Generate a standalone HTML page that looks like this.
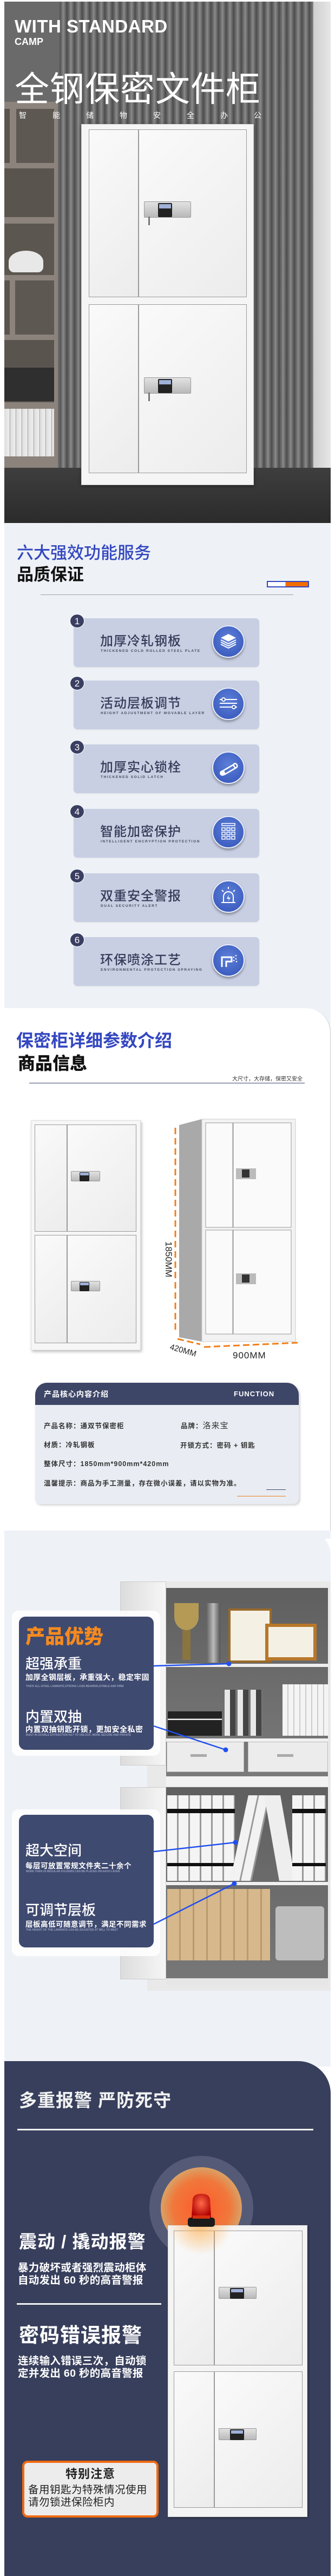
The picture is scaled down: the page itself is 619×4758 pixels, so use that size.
<!DOCTYPE html>
<html><head><meta charset="utf-8">
<style>
*{margin:0;padding:0;box-sizing:border-box}
body{width:619px;height:4758px;background:#fff;position:relative;overflow:hidden;font-family:"Liberation Sans","Noto Sans CJK SC",sans-serif}
.a{position:absolute}
.cj{font-family:"Liberation Sans","Noto Sans CJK SC",sans-serif}
.door{position:absolute;background:linear-gradient(135deg,#fafafa,#ececec);border:1px solid #9a9a9a}
.lock{position:absolute;background:linear-gradient(#e2e2e2,#b9b9b9);border:1px solid #999;border-radius:2px}
.lock .scr{position:absolute;background:#222;border-radius:2px}
.lock .scr i{position:absolute;background:#9fb0d8}
.card{position:absolute;left:136px;width:343px;height:90px;background:#c8cfe3;border-radius:7px;box-shadow:0 1px 2px rgba(0,0,0,.08)}
.card .t{position:absolute;left:49px;top:22px;font-size:24px;color:#363b58;font-weight:500;letter-spacing:1px}
.card .e{position:absolute;left:50px;top:57px;font-size:6.5px;font-weight:bold;color:#444a60;letter-spacing:1.6px;white-space:nowrap}
.card .ic{position:absolute;left:256px;top:13px;width:60px;height:60px;border-radius:50%;background:radial-gradient(circle at 50% 40%,#5d7fd8,#3253b8);border:2px solid #e8ecf8;box-shadow:0 3px 5px rgba(0,0,0,.35)}
.badge{position:absolute;left:-7px;top:-8px;width:27px;height:26px;border-radius:50%;background:#3a3f62;color:#fff;font-size:17px;text-align:center;line-height:26px;border:1px solid #fff}
.row{position:absolute;font-size:12.5px;color:#333;font-weight:bold;letter-spacing:1px;white-space:nowrap}
.pw{position:absolute;color:#fff;white-space:nowrap}
</style></head><body>

<!-- HERO -->
<div class="a" style="left:8px;top:3px;width:603px;height:963px;background:#6a6a6a;overflow:hidden">
  <div class="a" style="left:102px;top:0;width:471px;height:870px;background:repeating-linear-gradient(90deg,#4f4f4f 0px,#6e6e6e 4px,#8a8a8a 7px,#666 11px,#4a4a4a 14px)"></div>
  <div class="a" style="left:571px;top:0;width:32px;height:870px;background:linear-gradient(90deg,#cfcfcf,#e6e6e6)"></div>
  <!-- shelf -->
  <div class="a" style="left:0;top:185px;width:99px;height:678px;background:#8b837c"></div>
  <div class="a" style="left:0;top:198px;width:10px;height:100px;background:#5a544f"></div>
  <div class="a" style="left:22px;top:198px;width:70px;height:100px;background:#5e5852"></div>
  <div class="a" style="left:0;top:308px;width:92px;height:90px;background:#5a544f"></div>
  <div class="a" style="left:0;top:410px;width:92px;height:95px;background:#5c5650"></div>
  <div class="a" style="left:0;top:515px;width:10px;height:100px;background:#5a544f"></div>
  <div class="a" style="left:20px;top:515px;width:72px;height:100px;background:#5e5852"></div>
  <div class="a" style="left:0;top:625px;width:92px;height:115px;background:#5a544f"></div>
  <div class="a" style="left:0;top:676px;width:92px;height:62px;background:#2f2f2f"></div>
  <div class="a" style="left:0;top:752px;width:92px;height:88px;background:repeating-linear-gradient(90deg,#ddd 0,#eee 9px,#999 11px)"></div>
  <div class="a" style="left:8px;top:460px;width:64px;height:40px;border-radius:50% 50% 10px 10px;background:#e8e8e8"></div>
  <!-- floor -->
  <div class="a" style="left:0;top:861px;width:603px;height:102px;background:linear-gradient(#3e3e3e,#2b2b2b)"></div>
  <div class="a" style="left:0;top:61px;width:0;height:0"></div>
  <div class="a" style="left:19px;top:27px;color:#fff;font-size:33px;font-weight:bold;letter-spacing:0.5px">WITH STANDARD</div>
  <div class="a" style="left:19px;top:64px;color:#fff;font-size:18px;font-weight:bold">CAMP</div>
  <div class="a cj" style="left:19px;top:122px;color:#fff;font-size:64px;letter-spacing:1px;white-space:nowrap;line-height:80px">全钢保密文件柜</div>
  <div class="a cj" style="left:27px;top:200px;color:#fff;font-size:14px;white-space:nowrap;word-spacing:0">
   <span style="display:inline-block;width:62px">智</span><span style="display:inline-block;width:62px">能</span><span style="display:inline-block;width:62px">储</span><span style="display:inline-block;width:62px">物</span><span style="display:inline-block;width:62px">安</span><span style="display:inline-block;width:62px">全</span><span style="display:inline-block;width:62px">办</span><span>公</span></div>
  <!-- cabinet -->
  <div class="a" style="left:142px;top:226px;width:319px;height:667px;background:#f5f5f5;border:1px solid #ccc;box-shadow:0 2px 6px rgba(0,0,0,.4)">
    <div class="door" style="left:13px;top:9px;width:92px;height:310px"></div>
    <div class="door" style="left:105px;top:9px;width:200px;height:310px"></div>
    <div class="door" style="left:13px;top:332px;width:92px;height:312px"></div>
    <div class="door" style="left:105px;top:332px;width:200px;height:312px"></div>
    <div class="lock" style="left:115px;top:142px;width:87px;height:30px"><div class="scr" style="left:25px;top:2px;width:26px;height:26px"><i style="left:2px;top:2px;width:22px;height:8px"></i></div></div>
    <div class="a" style="left:123px;top:170px;width:3px;height:16px;background:#777"></div>
    <div class="lock" style="left:115px;top:467px;width:87px;height:30px"><div class="scr" style="left:25px;top:2px;width:26px;height:26px"><i style="left:2px;top:2px;width:22px;height:8px"></i></div></div>
    <div class="a" style="left:123px;top:495px;width:3px;height:16px;background:#777"></div>
  </div>
</div>

<!-- SECTION 2 -->
<div class="a" style="left:8px;top:966px;width:603px;height:896px;background:#eef2f7"></div>
<div class="a cj" style="left:31px;top:996px;font-size:31px;color:#3447c0;font-weight:500;white-space:nowrap">六大强效功能服务</div>
<div class="a cj" style="left:31px;top:1036px;font-size:31px;color:#111;font-weight:bold;white-space:nowrap">品质保证</div>
<div class="a" style="left:493px;top:1073px;width:78px;height:12px;border:2px solid #3447c0;background:linear-gradient(90deg,#fff 44%,#f26d00 44%)"></div>
<div class="a" style="left:75px;top:1098px;width:467px;height:1px;background:#9aa0aa"></div>

<div class="card" style="top:1142px"><div class="badge">1</div><div class="t">加厚冷轧钢板</div><div class="e">THICKENED COLD ROLLED STEEL PLATE</div>
 <div class="ic"><svg width="56" height="56" viewBox="0 0 56 56"><g fill="none" stroke="#fff" stroke-width="2"><path d="M14 33 L28 40 L42 33"/><path d="M14 29 L28 36 L42 29"/><path d="M14 25 L28 32 L42 25"/></g><path d="M14 21 L28 14 L42 21 L28 28Z" fill="#fff"/></svg></div></div>
<div class="card" style="top:1257px"><div class="badge">2</div><div class="t">活动层板调节</div><div class="e">HEIGHT ADJUSTMENT OF MOVABLE LAYER</div>
 <div class="ic"><svg width="56" height="56"><g stroke="#fff" stroke-width="2" fill="#3a5cc0"><line x1="12" y1="20" x2="44" y2="20"/><line x1="12" y1="27" x2="44" y2="27"/><line x1="12" y1="34" x2="44" y2="34"/><circle cx="19" cy="20" r="3"/><circle cx="38" cy="34" r="3"/></g></svg></div></div>
<div class="card" style="top:1375px"><div class="badge">3</div><div class="t">加厚实心锁栓</div><div class="e">THICKENED SOLID LATCH</div>
 <div class="ic"><svg width="56" height="56"><g stroke="#fff" stroke-width="2.5" fill="none"><path d="M14 36 L38 22 M20 41 L44 27"/><ellipse cx="41" cy="24" rx="3" ry="4" transform="rotate(-30 41 24)"/></g><circle cx="17" cy="38" r="5" fill="#fff"/></svg></div></div>
<div class="card" style="top:1494px"><div class="badge">4</div><div class="t">智能加密保护</div><div class="e">INTELLIGENT ENCRYPTION PROTECTION</div>
 <div class="ic"><svg width="56" height="56"><g stroke="#fff" stroke-width="1.5" fill="none"><rect x="16" y="12" width="24" height="4"/><rect x="16" y="20" width="6" height="5"/><rect x="25" y="20" width="6" height="5"/><rect x="34" y="20" width="6" height="5"/><rect x="16" y="28" width="6" height="5"/><rect x="25" y="28" width="6" height="5"/><rect x="34" y="28" width="6" height="5"/><rect x="16" y="36" width="6" height="5"/><rect x="25" y="36" width="6" height="5"/><rect x="34" y="36" width="6" height="5"/></g></svg></div></div>
<div class="card" style="top:1613px"><div class="badge">5</div><div class="t">双重安全警报</div><div class="e">DUAL SECURITY ALERT</div>
 <div class="ic"><svg width="56" height="56"><g stroke="#fff" stroke-width="2" fill="none"><path d="M19 38 V28 a9 9 0 0 1 18 0 V38"/><line x1="15" y1="39" x2="41" y2="39"/><line x1="28" y1="10" x2="28" y2="14"/><line x1="16" y1="16" x2="19" y2="19"/><line x1="40" y1="16" x2="37" y2="19"/></g><path d="M29 25 L25 32 H29 L27 37 L32 30 H28Z" fill="#fff"/></svg></div></div>
<div class="card" style="top:1731px"><div class="badge">6</div><div class="t">环保喷涂工艺</div><div class="e">ENVIRONMENTAL PROTECTION SPRAYING</div>
 <div class="ic"><svg width="56" height="56"><g stroke="#fff" stroke-width="3" fill="none"><path d="M16 40 V22 H34 V30 H24 V40"/></g><g fill="#fff"><circle cx="38" cy="22" r="1.3"/><circle cx="42" cy="19" r="1.3"/><circle cx="42" cy="25" r="1.3"/><circle cx="38" cy="28" r="1.3"/><circle cx="43" cy="30" r="1.3"/></g></svg></div></div>

<!-- SECTION 3 white panel -->
<div class="a" style="left:8px;top:1862px;width:603px;height:980px;background:#eef2f7"></div>
<div class="a" style="left:8px;top:1862px;width:603px;height:965px;background:#fff;border-top-right-radius:45px;border-right:1px solid #ccc"></div>
<div class="a cj" style="left:30px;top:1897px;font-size:32px;color:#3447c0;font-weight:bold;white-space:nowrap">保密柜详细参数介绍</div>
<div class="a cj" style="left:33px;top:1939px;font-size:32px;color:#111;font-weight:900;white-space:nowrap">商品信息</div>
<div class="a cj" style="left:429px;top:1984px;font-size:10px;color:#333;white-space:nowrap">大尺寸，大存储，保密又安全</div>
<div class="a" style="left:54px;top:2000px;width:509px;height:1px;background:#3a4270"></div>

<div class="a" style="left:57px;top:2069px;width:203px;height:425px;background:#f6f6f6;border:1px solid #ddd;box-shadow:2px 3px 5px rgba(0,0,0,.25)">
  <div class="door" style="left:6px;top:7px;width:60px;height:198px"></div>
  <div class="door" style="left:66px;top:7px;width:128px;height:198px"></div>
  <div class="door" style="left:6px;top:211px;width:60px;height:200px"></div>
  <div class="door" style="left:66px;top:211px;width:128px;height:200px"></div>
  <div class="lock" style="left:73px;top:93px;width:54px;height:19px"><div class="scr" style="left:15px;top:1px;width:18px;height:17px"><i style="left:1px;top:1px;width:16px;height:5px"></i></div></div>
  <div class="lock" style="left:73px;top:296px;width:54px;height:19px"><div class="scr" style="left:15px;top:1px;width:18px;height:17px"><i style="left:1px;top:1px;width:16px;height:5px"></i></div></div>
</div>
<!-- 3d cabinet -->
<svg class="a" style="left:300px;top:2050px" width="260" height="470">
  <polygon points="31,28 73,17 73,428 31,420" fill="#a9a9a9"/>
  <rect x="73" y="17" width="173" height="411" fill="#f2f2f2" stroke="#ccc"/>
  <g fill="#fafafa" stroke="#999"><rect x="80" y="24" width="50" height="193"/><rect x="131" y="24" width="107" height="193"/><rect x="80" y="222" width="50" height="192"/><rect x="131" y="222" width="107" height="192"/></g>
  <rect x="136" y="108" width="37" height="20" fill="#bbb"/><rect x="147" y="110" width="14" height="15" fill="#333"/>
  <rect x="136" y="302" width="37" height="20" fill="#bbb"/><rect x="147" y="304" width="14" height="15" fill="#333"/>
  <line x1="24" y1="33" x2="24" y2="410" stroke="#f07f1a" stroke-width="3" stroke-dasharray="12,7"/>
  <line x1="28" y1="423" x2="70" y2="433" stroke="#f07f1a" stroke-width="3" stroke-dasharray="12,6"/>
  <line x1="77" y1="438" x2="250" y2="430" stroke="#f07f1a" stroke-width="3" stroke-dasharray="12,6"/>
  <text x="0" y="0" transform="translate(6,243) rotate(90)" font-size="17" font-family="Liberation Sans" fill="#222">1850MM</text>
  <text x="0" y="0" transform="translate(13,442) rotate(16)" font-size="15" font-family="Liberation Sans" fill="#222">420MM</text>
  <text x="130" y="459" font-size="17" font-family="Liberation Sans" fill="#222" letter-spacing="1">900MM</text>
</svg>

<!-- info box -->
<div class="a" style="left:65px;top:2554px;width:487px;height:224px;background:#e9edf3;border-radius:22px 22px 10px 10px;box-shadow:2px 2px 5px rgba(0,0,0,.2);overflow:hidden">
  <div class="a" style="left:0;top:0;width:487px;height:41px;background:#3e4667"></div>
  <div class="a cj" style="left:16px;top:11px;font-size:14px;color:#fff;font-weight:bold;letter-spacing:1px;white-space:nowrap">产品核心内容介绍</div>
  <div class="a" style="left:367px;top:13px;font-size:13px;color:#fff;font-weight:900;letter-spacing:1px">FUNCTION</div>
</div>
<div class="row cj" style="left:81px;top:2623px">产品名称：通双节保密柜</div>
<div class="row cj" style="left:334px;top:2622px">品牌：<span style="font-size:15px;font-weight:normal">洛来宝</span></div>
<div class="row cj" style="left:81px;top:2658px">材质：冷轧钢板</div>
<div class="row cj" style="left:333px;top:2659px">开锁方式：密码 + 钥匙</div>
<div class="row cj" style="left:81px;top:2693px">整体尺寸：1850mm*900mm*420mm</div>
<div class="row cj" style="left:81px;top:2729px">温馨提示：商品为手工测量，存在微小误差，请以实物为准。</div>
<div class="a" style="left:492px;top:2751px;width:36px;height:1px;background:#3e4667"></div>
<div class="a" style="left:438px;top:2763px;width:90px;height:1px;background:#f07f1a"></div>

<!-- SECTION 4 -->
<div class="a" style="left:8px;top:2827px;width:603px;height:990px;background:#eef2f7;border-top-right-radius:45px"></div>
<div class="a" style="left:222px;top:2921px;width:389px;height:756px">
  <div class="a" style="left:50px;top:0;width:339px;height:756px;background:#e9e9e9"></div>
  <div class="a" style="left:85px;top:12px;width:299px;height:350px;background:linear-gradient(#5f5f5f,#7a7a7a)"></div>
  <div class="a" style="left:85px;top:380px;width:299px;height:353px;background:linear-gradient(#5f5f5f,#777)"></div>
  <div class="a" style="left:85px;top:152px;width:299px;height:6px;background:#eee"></div>
  <div class="a" style="left:85px;top:290px;width:299px;height:6px;background:#f0f0f0"></div>
  <div class="a" style="left:86px;top:296px;width:143px;height:56px;background:#ececec;border:1px solid #bbb"></div>
  <div class="a" style="left:236px;top:296px;width:148px;height:56px;background:#ececec;border:1px solid #bbb"></div>
  <div class="a" style="left:130px;top:319px;width:30px;height:5px;background:#aaa"></div>
  <div class="a" style="left:290px;top:319px;width:30px;height:5px;background:#aaa"></div>
  <div class="a" style="left:85px;top:360px;width:299px;height:18px;background:#f2f2f2"></div>
  <div class="a" style="left:85px;top:555px;width:299px;height:6px;background:#f0f0f0"></div>
  <div class="a" style="left:85px;top:734px;width:299px;height:12px;background:#e6e6e6"></div>
  <!-- trophies/certs -->
  <div class="a" style="left:100px;top:40px;width:45px;height:50px;border-radius:0 0 50% 50%;background:#b49a55"></div>
  <div class="a" style="left:115px;top:90px;width:15px;height:55px;background:#8a7440"></div>
  <div class="a" style="left:160px;top:40px;width:25px;height:110px;background:linear-gradient(90deg,#666,#bbb,#555)"></div>
  <div class="a" style="left:200px;top:50px;width:80px;height:100px;background:#f4f0e4;border:4px solid #9a6a2a"></div>
  <div class="a" style="left:268px;top:78px;width:95px;height:68px;background:#f4f0e4;border:6px solid #b8782a"></div>
  <!-- books -->
  <div class="a" style="left:88px;top:240px;width:100px;height:45px;background:linear-gradient(#222 0 30%,#eee 30% 36%,#222 36%)"></div>
  <div class="a" style="left:193px;top:200px;width:70px;height:85px;background:repeating-linear-gradient(90deg,#e8e8e8 0 10px,#444 10px 20px,#777 20px 24px)"></div>
  <div class="a" style="left:300px;top:190px;width:84px;height:95px;background:repeating-linear-gradient(90deg,#f4f4f4 0 9px,#ccc 9px 11px)"></div>
  <!-- binders -->
  <div class="a" style="left:87px;top:395px;width:125px;height:158px;background:repeating-linear-gradient(90deg,#f4f4f4 0 18px,#999 18px 21px)"></div>
  <div class="a" style="left:87px;top:420px;width:125px;height:8px;background:#111"></div>
  <div class="a" style="left:87px;top:520px;width:125px;height:6px;background:#111"></div>
  <div class="a" style="left:220px;top:395px;width:40px;height:158px;background:repeating-linear-gradient(90deg,#f2f2f2 0 17px,#999 17px 20px);transform:skewX(-12deg)"></div>
  <div class="a" style="left:280px;top:395px;width:30px;height:158px;background:#eee;transform:skewX(10deg)"></div>
  <div class="a" style="left:318px;top:395px;width:62px;height:158px;background:repeating-linear-gradient(90deg,#f4f4f4 0 18px,#999 18px 21px)"></div>
  <div class="a" style="left:318px;top:420px;width:62px;height:8px;background:#111"></div>
  <div class="a" style="left:318px;top:520px;width:62px;height:6px;background:#111"></div>
  <!-- folders -->
  <div class="a" style="left:87px;top:568px;width:190px;height:132px;background:repeating-linear-gradient(90deg,#d6b88c 0 22px,#b89a6e 22px 25px)"></div>
  <div class="a" style="left:287px;top:600px;width:90px;height:100px;background:#bdbdbd;border-radius:6px"></div>
  <!-- door -->
  <div class="a" style="left:0;top:0;width:85px;height:340px;background:linear-gradient(90deg,#dcdcdc,#f6f6f6);border:1px solid #ccc"></div>
  <div class="a" style="left:0;top:380px;width:85px;height:355px;background:linear-gradient(90deg,#dcdcdc,#f6f6f6);border:1px solid #ccc"></div>
</div>
<!-- overlay panels -->
<div class="a" style="left:22px;top:2975px;width:274px;height:268px;background:rgba(255,255,255,.85);border-radius:12px"></div>
<div class="a" style="left:35px;top:2986px;width:249px;height:246px;background:#3f4a70;border-radius:12px"></div>
<div class="a" style="left:22px;top:3342px;width:274px;height:271px;background:rgba(255,255,255,.85);border-radius:12px"></div>
<div class="a" style="left:35px;top:3352px;width:249px;height:245px;background:#3f4a70;border-radius:12px"></div>
<div class="pw cj" style="left:47px;top:2994px;font-size:36px;color:#f58a1f;font-weight:900">产品优势</div>
<div class="pw cj" style="left:47px;top:3053px;font-size:26px;font-weight:500">超强承重</div>
<div class="pw cj" style="left:47px;top:3088px;font-size:14px;font-weight:bold;letter-spacing:0.3px">加厚全钢层板，承重强大，稳定牢固</div>
<div class="pw" style="left:48px;top:3112px;font-size:5px;color:#9aa3c0;font-weight:bold">THICK ALL-STEEL LAMINATE,STRONG LOAD-BEARING,STABLE AND FIRM</div>
<div class="pw cj" style="left:47px;top:3151px;font-size:26px;font-weight:500">内置双抽</div>
<div class="pw cj" style="left:47px;top:3184px;font-size:14px;font-weight:bold;letter-spacing:0.5px">内置双抽钥匙开锁，更加安全私密</div>
<div class="pw" style="left:48px;top:3202px;font-size:5px;color:#9aa3c0;font-weight:bold">BUILT IN DOUBLE EXTRACTION KEY TO UNLOCK, MORE SECURE AND PRIVATE</div>
<div class="pw cj" style="left:47px;top:3398px;font-size:26px;font-weight:500">超大空间</div>
<div class="pw cj" style="left:47px;top:3435px;font-size:13.5px;font-weight:bold;letter-spacing:0.5px">每层可放置常规文件夹二十余个</div>
<div class="pw" style="left:48px;top:3454px;font-size:5px;color:#9aa3c0;font-weight:bold">MORE THAN 20 REGULAR FOLDERS CAN BE PLACED ON EACH LAYER</div>
<div class="pw cj" style="left:47px;top:3508px;font-size:26px;font-weight:500">可调节层板</div>
<div class="pw cj" style="left:47px;top:3543px;font-size:13.5px;font-weight:bold;letter-spacing:0.5px">层板高低可随意调节，满足不同需求</div>
<div class="pw" style="left:48px;top:3562px;font-size:5px;color:#9aa3c0;font-weight:bold">THE HEIGHT OF THE LAMINATE CAN BE ADJUSTED AT WILL TO MEET</div>
<svg class="a" style="left:0;top:0" width="619" height="3700">
 <g stroke="#1f4ff0" stroke-width="2.5"><line x1="284" y1="3077" x2="423" y2="3073"/><line x1="284" y1="3188" x2="417" y2="3232"/><line x1="284" y1="3420" x2="435" y2="3403"/><line x1="284" y1="3554" x2="433" y2="3479"/></g>
 <g fill="#1f4ff0"><circle cx="423" cy="3073" r="4.5"/><circle cx="417" cy="3232" r="4.5"/><circle cx="435" cy="3403" r="4.5"/><circle cx="433" cy="3479" r="4.5"/></g>
</svg>

<!-- SECTION 5 -->
<div class="a" style="left:8px;top:3807px;width:603px;height:951px;background:#383f5c;border-top-right-radius:60px"></div>
<div class="pw cj" style="left:35px;top:3853px;font-size:33px;font-weight:bold;color:#f2f2f2;letter-spacing:1px">多重报警 严防死守</div>
<div class="a" style="left:32px;top:3932px;width:547px;height:3px;background:#f2f2f2"></div>
<div class="a" style="left:276px;top:3982px;width:192px;height:192px;border-radius:50%;background:rgba(140,140,170,.35)"></div>
<div class="a" style="left:297px;top:4003px;width:150px;height:150px;border-radius:50%;background:radial-gradient(circle,#ff5a2a 0,#f0783c 50%,#d8a468 72%,#b59a6e 100%)"></div>
<!-- cabinet -->
<div class="a" style="left:310px;top:4110px;width:258px;height:539px;background:#f4f4f4;border:1px solid #ddd;box-shadow:2px 2px 4px rgba(0,0,0,.3)">
  <div class="door" style="left:10px;top:9px;width:75px;height:249px"></div>
  <div class="door" style="left:85px;top:9px;width:163px;height:249px"></div>
  <div class="door" style="left:10px;top:269px;width:75px;height:252px"></div>
  <div class="door" style="left:85px;top:269px;width:163px;height:252px"></div>
  <div class="lock" style="left:93px;top:113px;width:70px;height:22px"><div class="scr" style="left:20px;top:1px;width:26px;height:20px"><i style="left:2px;top:2px;width:22px;height:6px"></i></div></div>
  <div class="lock" style="left:93px;top:374px;width:70px;height:22px"><div class="scr" style="left:20px;top:1px;width:26px;height:20px"><i style="left:2px;top:2px;width:22px;height:6px"></i></div></div>
</div>
<div class="a" style="left:310px;top:4110px;width:120px;height:55px;background:radial-gradient(ellipse at 50% 0,rgba(255,170,70,.7),rgba(255,200,120,0) 70%)"></div>
<!-- siren -->
<svg class="a" style="left:344px;top:4048px" width="56" height="70">
  <defs><radialGradient id="rg" cx="50%" cy="40%" r="60%"><stop offset="0" stop-color="#ff6a4a"/><stop offset="1" stop-color="#b00000"/></radialGradient></defs>
  <path d="M10 48 L12 14 Q14 4 28 4 Q42 4 44 14 L46 48Z" fill="url(#rg)"/>
  <rect x="3" y="48" width="50" height="17" rx="5" fill="#1a1a1a"/>
  <rect x="12" y="44" width="32" height="6" fill="#d83010"/>
</svg>
<div class="pw cj" style="left:35px;top:4114px;font-size:33px;font-weight:bold;letter-spacing:1px">震动 / 撬动报警</div>
<div class="pw cj" style="left:33px;top:4178px;font-size:19.5px;font-weight:bold;line-height:23px;letter-spacing:0.3px">暴力破坏或者强烈震动柜体<br>自动发出 60 秒的高音警报</div>
<div class="a" style="left:31px;top:4254px;width:267px;height:3px;background:#f2f2f2"></div>
<div class="pw cj" style="left:35px;top:4283px;font-size:37px;font-weight:bold;letter-spacing:1px">密码错误报警</div>
<div class="pw cj" style="left:33px;top:4350px;font-size:19.5px;font-weight:bold;line-height:23px;letter-spacing:0.3px">连续输入错误三次，自动锁<br>定并发出 60 秒的高音警报</div>
<div class="a" style="left:41px;top:4545px;width:252px;height:105px;background:#ececec;border:4px solid #f26a10;border-radius:10px"></div>
<div class="a cj" style="left:41px;top:4552px;width:252px;text-align:center;font-size:22px;font-weight:bold;color:#222;letter-spacing:1px">特别注意</div>
<div class="a cj" style="left:52px;top:4588px;font-size:19.5px;color:#222;line-height:23px;white-space:nowrap;letter-spacing:0.5px">备用钥匙为特殊情况使用<br>请勿锁进保险柜内</div>
</body></html>
